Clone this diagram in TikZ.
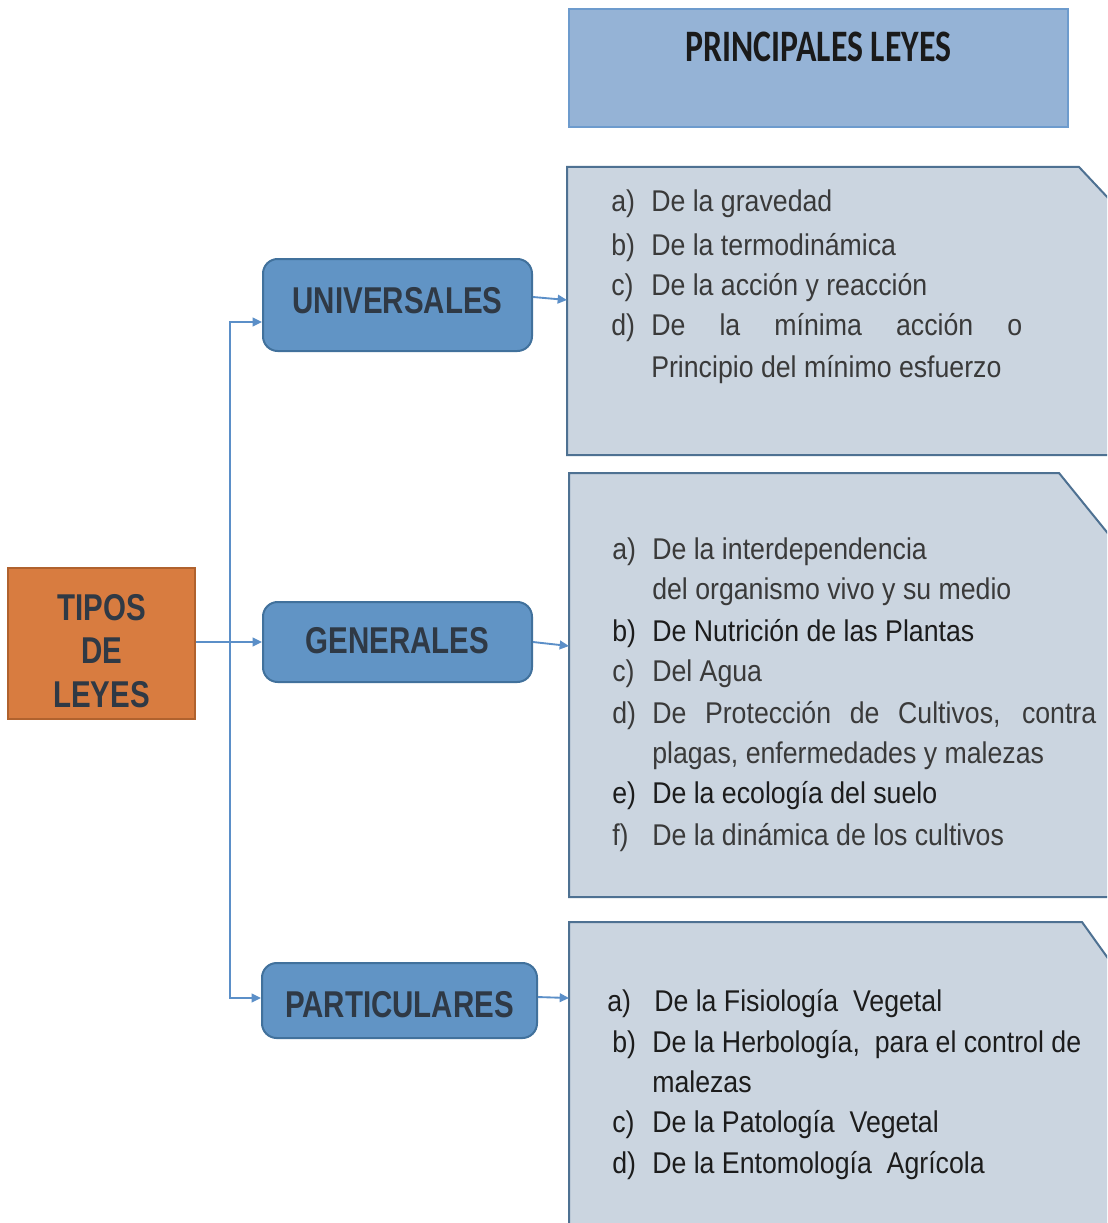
\documentclass[tikz,border=0pt]{standalone}
\usepackage{fontspec}
\setmainfont{Liberation Sans}
\newfontfamily\bodyfont[FakeStretch=0.89]{Liberation Sans}
\newfontfamily\catfont[FakeStretch=0.79]{Liberation Sans}
\newfontfamily\headfont[FakeStretch=0.75]{Carlito}
\usetikzlibrary{arrows.meta}
\definecolor{hdrfill}{HTML}{95B3D6}
\definecolor{hdrdraw}{HTML}{6D9BCD}
\definecolor{listfill}{HTML}{CBD5E0}
\definecolor{listdraw}{HTML}{4E7192}
\definecolor{catfill}{HTML}{6194C5}
\definecolor{catdraw}{HTML}{41719C}
\definecolor{tipfill}{HTML}{D87C40}
\definecolor{tipdraw}{HTML}{B0622E}
\definecolor{cattxt}{HTML}{2F3945}
\definecolor{bodytxt}{HTML}{3A3A3A}
\definecolor{darktxt}{HTML}{1C1C1C}
\definecolor{arrc}{HTML}{5B8FC8}
\definecolor{hdrtxt}{HTML}{1A1A1A}
\tikzset{
  catbox/.style={draw=catdraw, fill=catfill, line width=1.5pt, rounded corners=11pt, inner sep=0pt,
    font=\catfont\bfseries\fontsize{28pt}{30pt}\selectfont, text=cattxt},
  tipbox/.style={draw=tipdraw, fill=tipfill, line width=1.5pt, inner sep=0pt},
  tiptext/.style={anchor=base, inner sep=0pt, font=\catfont\bfseries\fontsize{28pt}{30pt}\selectfont, text=cattxt},
  hdrbox/.style={draw=hdrdraw, fill=hdrfill, line width=1.6pt, inner sep=0pt,
    font=\headfont\bfseries\fontsize{33.75pt}{36pt}\selectfont, text=hdrtxt},
  listbox/.style={draw=listdraw, fill=listfill, line width=1.5pt},
  item/.style={anchor=base west, inner sep=0pt, font=\bodyfont\fontsize{22.5pt}{27pt}\selectfont, text=bodytxt},
  itemdk/.style={item, text=darktxt},
  arr/.style={draw=arrc, line width=1.4pt, -{Triangle[length=7pt,width=6.5pt]}},
}
\begin{document}
\begin{tikzpicture}[x=0.75pt,y=-0.75pt]
\useasboundingbox (0,0) rectangle (1107,1223);
\fill[white] (0,0) rectangle (1107,1223);
\clip (0,0) rectangle (1107,1223);

% header
\node[hdrbox, minimum width=374.25pt, minimum height=88.5pt, text height=21pt, text depth=30pt] (hdr) at (818.5,68) {PRINCIPALES LEYES};

% list boxes
\draw[listbox] (567,455) -- (567,167) -- (1079,167) -- (1140,232) -- (1140,455) -- cycle;
\draw[listbox] (569,897) -- (569,473) -- (1059,473) -- (1140,573) -- (1140,897) -- cycle;
\draw[listbox] (569,1260) -- (569,922) -- (1082,922) -- (1140,1003) -- (1140,1260) -- cycle;
\coordinate (l1) at (567,300);
\coordinate (l2) at (569,646);
\coordinate (l3) at (569,998);

% box 1 items
\node[item] (ua) at (611,212) {a)};
\node[item] (uat) at (651,212) {De la gravedad};
\node[item] (ub) at (611,255) {b)};
\node[item] (ubt) at (651,255) {De la termodinámica};
\node[item] (uc) at (611,295) {c)};
\node[item] (uct) at (651,295) {De la acción y reacción};
\node[item] (ud) at (611,335) {d)};
\node[item] (udt) at (651,335) {\makebox[278.25pt][s]{De la mínima acción o}};
\node[item] (udt2) at (651,377) {Principio del mínimo esfuerzo};

% box 2 items
\node[item] (ga) at (612,559) {a)};
\node[item] (gat) at (652,559) {De la interdependencia};
\node[item] (gat2) at (652,599) {del organismo vivo y su medio};
\node[itemdk] (gb) at (612,641) {b)};
\node[itemdk] (gbt) at (652,641) {De Nutrición de las Plantas};
\node[item] (gc) at (612,681) {c)};
\node[item] (gct) at (652,681) {Del Agua};
\node[item] (gd) at (612,723) {d)};
\node[item] (gdt) at (652,723) {\makebox[333pt][s]{De Protección de Cultivos, contra}};
\node[item] (gdt2) at (652,763) {plagas, enfermedades y malezas};
\node[itemdk] (ge) at (612,803) {e)};
\node[itemdk] (get) at (652,803) {De la ecología del suelo};
\node[item] (gf) at (612,845) {f)};
\node[item] (gft) at (652,845) {De la dinámica de los cultivos};

% box 3 items
\node[itemdk] (pa) at (607,1011) {a)};
\node[itemdk] (pat) at (654,1011) {De la Fisiología\ \ Vegetal};
\node[itemdk] (pb) at (612,1052) {b)};
\node[itemdk] (pbt) at (652,1052) {De la Herbología,\ \ para el control de};
\node[itemdk] (pbt2) at (652,1092) {malezas};
\node[itemdk] (pc) at (612,1132) {c)};
\node[itemdk] (pct) at (652,1132) {De la Patología\ \ Vegetal};
\node[itemdk] (pd) at (612,1173) {d)};
\node[itemdk] (pdt) at (652,1173) {De la Entomología\ \ Agrícola};

% category boxes
\node[catbox, minimum width=201.75pt, minimum height=69pt, text height=16pt, text depth=4pt] (univ) at (397.5,305) {UNIVERSALES};
\node[catbox, minimum width=201.75pt, minimum height=60pt, text height=18pt, text depth=1.5pt] (gen) at (397.5,642) {GENERALES};
\node[catbox, minimum width=206.25pt, minimum height=56.25pt, text height=24.75pt, text depth=0pt] (partic) at (399.5,1000.5) {PARTICULARES};

% tipos box
\node[tipbox, minimum width=140.25pt, minimum height=113.25pt] (tipos) at (101.5,643.5) {};
\node[tiptext] (tip1) at (101.5,620) {TIPOS};
\node[tiptext] (tip2) at (101.5,663) {DE};
\node[tiptext] (tip3) at (101.5,707) {LEYES};

% connectors
\coordinate (vt) at (230,322);
\coordinate (vb) at (230,998);
\draw[arr] (vb) -- (vt) -- (univ.west |- vt);
\draw[arr] (vt) -- (vb) -- (partic.west |- vb);
\draw[arr] (tipos.east |- gen.west) -- (gen.west);
\draw[arr] ([yshift=6pt]univ.east) -- (l1);
\draw[arr] (gen.east) -- (l2);
\draw[arr] ([yshift=2.6pt]partic.east) -- (l3);
\end{tikzpicture}
\end{document}
